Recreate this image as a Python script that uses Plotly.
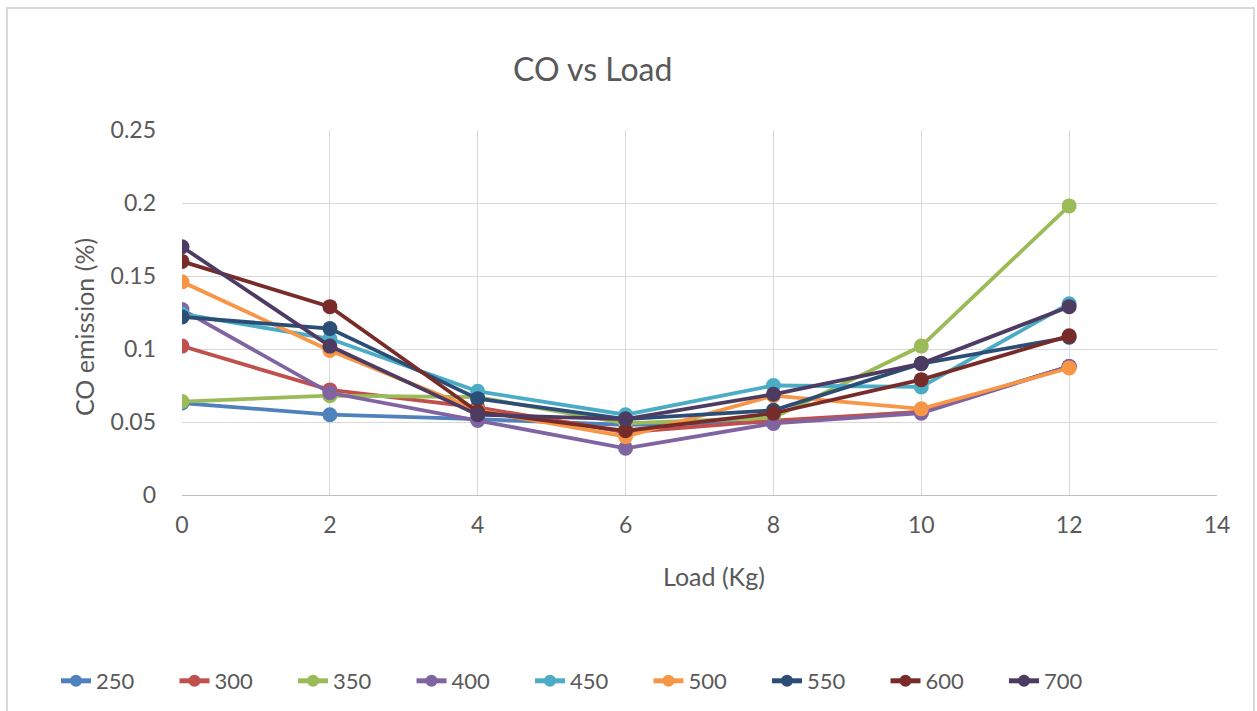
import plotly.graph_objects as go

loads = [0, 2, 4, 6, 8, 10, 12]
series_names = ["250", "300", "350", "400", "450", "500", "550", "600", "700"]
s250 = [0.063, 0.055, 0.052, 0.048, 0.050, 0.057, 0.088]
s300 = [0.102, 0.072, 0.060, 0.043, 0.051, 0.057, 0.088]
s350 = [0.064, 0.068, 0.067, 0.049, 0.053, 0.102, 0.198]
s400 = [0.127, 0.070, 0.051, 0.032, 0.049, 0.056, 0.088]
s450 = [0.124, 0.107, 0.071, 0.055, 0.075, 0.074, 0.131]
s500 = [0.146, 0.099, 0.058, 0.040, 0.068, 0.059, 0.087]
s550 = [0.122, 0.114, 0.066, 0.052, 0.058, 0.090, 0.108]
s600 = [0.160, 0.129, 0.057, 0.044, 0.056, 0.079, 0.109]
s700 = [0.170, 0.102, 0.055, 0.052, 0.069, 0.090, 0.129]
values = [s250, s300, s350, s400, s450, s500, s550, s600, s700]
colors = ["#4F81BD", "#C0504D", "#9BBB59", "#8064A2", "#4BACC6",
          "#F79646", "#2C4D75", "#772C2A", "#4D3B62"]

FONT = "Lato"
TXT = "#595959"

# pixel geometry helpers (plot area: x 182..1217, y 130..495)
L, R, T, B = 182, 1217, 130, 495
W, H = 1257, 711
def px(x):
    return (x - L) / (R - L)
def py(y):
    return (B - y) / (B - T)

fig = go.Figure()
for name, vals, c in zip(series_names, values, colors):
    fig.add_trace(go.Scatter(
        x=loads, y=vals, name=name, mode="lines+markers",
        line=dict(color=c, width=3.8),
        marker=dict(color=c, size=15),
    ))

fig.update_layout(
    width=W, height=H,
    margin=dict(l=L, r=W - R, t=T, b=H - B, autoexpand=False),
    paper_bgcolor="white", plot_bgcolor="white",
    font=dict(family=FONT, color=TXT, size=22),
    showlegend=True,
    legend=dict(orientation="h", x=px(56), y=py(681), xanchor="left", yanchor="middle",
                entrywidth=73.5, entrywidthmode="pixels",
                font=dict(family=FONT, size=22, color=TXT),
                bgcolor="rgba(0,0,0,0)", itemsizing="constant"),
    xaxis=dict(range=[0, 14], dtick=2, tick0=0, showgrid=True, gridcolor="#D9D9D9",
               gridwidth=1.3, showline=True, linecolor="#BFBFBF", linewidth=1.3,
               zeroline=False, ticks="", ticklabelstandoff=9,
               tickfont=dict(family=FONT, size=23, color=TXT)),
    yaxis=dict(range=[0, 0.25], dtick=0.05, tick0=0, showgrid=True, gridcolor="#D9D9D9",
               gridwidth=1.3, showline=False, zeroline=False, ticks="",
               ticklabelstandoff=25,
               tickfont=dict(family=FONT, size=23, color=TXT)),
    annotations=[
        dict(text="CO vs Load", xref="paper", yref="paper", x=px(592), y=py(69),
             xanchor="center", yanchor="middle", showarrow=False,
             font=dict(family=FONT, size=32, color=TXT)),
        dict(text="Load (Kg)", xref="paper", yref="paper", x=px(714), y=py(576),
             xanchor="center", yanchor="middle", showarrow=False,
             font=dict(family=FONT, size=25, color=TXT)),
        dict(text="CO emission (%)", xref="paper", yref="paper", x=px(84), y=py(327),
             xanchor="center", yanchor="middle", showarrow=False, textangle=-90,
             font=dict(family=FONT, size=25, color=TXT)),
    ],
    shapes=[
        dict(type="rect", xref="paper", yref="paper",
             x0=px(7), x1=px(1254), y0=py(730), y1=py(8),
             line=dict(color="#D9D9D9", width=2), fillcolor="rgba(0,0,0,0)", layer="below"),
    ],
)

fig.write_html("out.html")
